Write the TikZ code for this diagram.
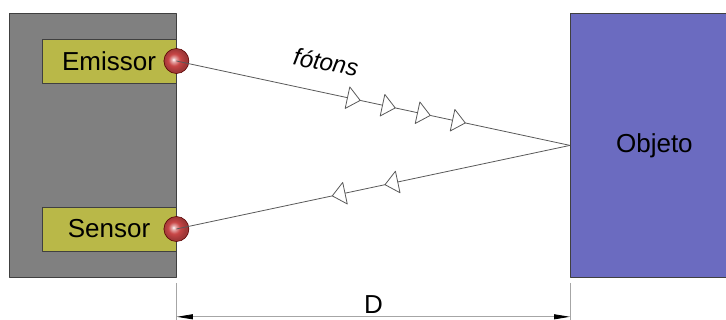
\documentclass[tikz,border=0pt]{standalone}
\usepackage{fontspec}
\setmainfont{Liberation Sans}
\usetikzlibrary{arrows.meta,calc,decorations.markings}

\definecolor{housinggray}{RGB}{128,128,128}
\definecolor{padgreen}{RGB}{185,184,72}
\definecolor{objblue}{RGB}{107,107,192}
\definecolor{lensred}{RGB}{200,70,70}

\pgfdeclareradialshading{lensshade}{\pgfpoint{-6bp}{3bp}}{%
  color(0bp)=(white); color(4bp)=(lensred!45!white); color(12bp)=(lensred);
  color(22bp)=(lensred!80!black); color(50bp)=(lensred!80!black)}

% open photon triangle, drawn in the local frame of a marking
\newcommand\photontri{\draw[draw=black!65, line width=0.8pt, fill=white] (-13pt,-11pt) -- (0pt,0pt) -- (-13pt,11pt) -- cycle;}

\begin{document}
\begin{tikzpicture}[x=1pt, y=-1pt, line join=round,
    >={Triangle[length=16pt,width=5pt,color=black]},
    font=\fontsize{26}{30}\selectfont,
    box/.style={draw=black!75, line width=0.8pt, inner sep=0pt},
    ray/.style={draw=black!65, line width=0.8pt},
    dimline/.style={draw=black!35, line width=0.8pt}]
  \useasboundingbox (0,0) rectangle (726,320);
  \clip (0,0) rectangle (726,320);
  % --- device housing with emitter and sensor pads ---
  \node[box, fill=housinggray, anchor=north west, minimum width=167pt, minimum height=264pt] (housing) at (9,13) {};
  \node[box, fill=padgreen, minimum width=134pt, minimum height=44pt] (emissor) at (109,61) {Emissor};
  \node[box, fill=padgreen, minimum width=134pt, minimum height=44pt] (sensor) at (109,229) {Sensor};
  % --- target object ---
  \node[box, fill=objblue, anchor=north west, minimum width=168pt, minimum height=264pt] (objeto) at (570,13) {Objeto};
  \coordinate (refl) at (objeto.west);
  % --- lenses ---
  \shade[shading=lensshade] (emissor.east) circle (12.5);
  \shade[shading=lensshade] (sensor.east) circle (12.5);
  \draw[red!35!black, line width=0.6pt] (emissor.east) circle (12.5);
  \draw[red!35!black, line width=0.6pt] (sensor.east) circle (12.5);
  % --- photon paths ---
  \draw[ray, postaction={decorate}, decoration={markings,
      mark=at position 0.467 with {\photontri},
      mark=at position 0.556 with {\photontri},
      mark=at position 0.645 with {\photontri},
      mark=at position 0.734 with {\photontri}}]
    (emissor.east) -- (refl);
  \draw[ray, postaction={decorate}, decoration={markings,
      mark=at position 0.470 with {\photontri},
      mark=at position 0.604 with {\photontri}}]
    (refl) -- (sensor.east);
  \node[font=\fontsize{24}{28}\selectfont\itshape, rotate=-10] (fotons) at (326,62) {fótons};
  % --- distance D ---
  \coordinate (dimL) at ($(housing.south east)+(0,39)$);
  \coordinate (dimR) at ($(objeto.south west)+(0,39)$);
  \draw[dimline] ($(housing.south east)+(0,5)$) -- ++(0,40);
  \draw[dimline] ($(objeto.south west)+(0,5)$) -- ++(0,40);
  \draw[dimline, <->] (dimL) -- (dimR) node[midway, above, inner sep=3pt] (dist) {D};
\end{tikzpicture}
\end{document}
